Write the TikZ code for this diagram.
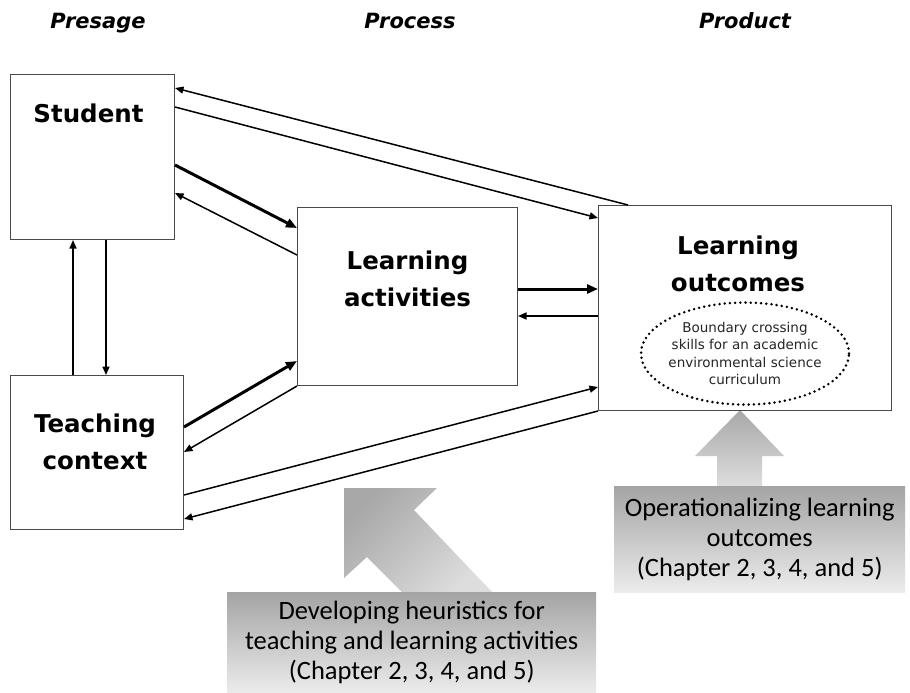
\documentclass[tikz,border=0pt]{standalone}
\usepackage{fontspec}
\setmainfont{DejaVu Sans}
\newfontfamily\calfont{Carlito}
\usetikzlibrary{
    shapes.geometric,
    arrows.meta,
    positioning,
    calc
}
\definecolor{pborder}{HTML}{4A4A4A}
\definecolor{pgraydark}{HTML}{A4A4A4}
\definecolor{pgraylight}{HTML}{ECECEC}
\definecolor{parrowdark}{HTML}{A8A8A8}
\definecolor{parrowlight}{HTML}{DDDDDD}
\tikzset{
    % Presage / process / product box
    pbox/.style={
        rectangle,
        draw=pborder,
        line width=1pt,
        fill=white,
        anchor=north west,
        inner sep=0pt
    },
    % Bold title inside a box
    ptitle/.style={
        font=\fontsize{24.5}{37}\selectfont\bfseries,
        align=center,
        inner sep=0pt
    },
    % Column header
    colheader/.style={
        font=\fontsize{21}{24}\selectfont\bfseries\itshape,
        anchor=base,
        inner sep=0pt
    },
    % Dotted ellipse
    skillsnode/.style={
        ellipse,
        draw=black,
        line width=2.8pt,
        dash pattern=on 0pt off 5.2pt,
        line cap=round,
        minimum width=208pt,
        minimum height=102pt,
        inner xsep=-5pt,
        inner ysep=0pt,
        font=\fontsize{13.5}{17.5}\selectfont,
        text=black!85,
        align=center
    },
    % Shaded note box
    notebox/.style={
        rectangle,
        top color=pgraydark,
        bottom color=pgraylight,
        anchor=north west,
        inner sep=2pt,
        font=\calfont\fontsize{26.5}{30}\selectfont,
        text=black,
        align=center
    },
    % Shaded block arrow
    blockarrow/.style={
        top color=parrowdark,
        bottom color=parrowlight
    },
    % Arrows
    thinarrow/.style={
        -{Triangle[length=8.5pt,width=7pt]},
        line width=1.5pt
    },
    thickarrow/.style={
        -{Triangle[length=11pt,width=9pt]},
        line width=3pt
    }
}
\begin{document}
\begin{tikzpicture}[x=1pt, y=-1pt]

    \useasboundingbox (0,0) rectangle (910,693);

    % Block arrows (behind the note boxes)
    \shade[blockarrow, shading angle=45] (344,488) -- ++(93,0) -- ++(-23,22)
        -- ++(78,82) -- ++(-90,0) -- ++(-35,-35) -- ++(-23,21) -- cycle;
    \shade[blockarrow] (740,410) -- ++(44,46) -- ++(-22,0) -- ++(0,30)
        -- ++(-45,0) -- ++(0,-30) -- ++(-22,0) -- cycle;

    % Note boxes
    \node[notebox, minimum width=369pt, minimum height=101pt] (heuristics) at (227,592)
        {Developing heuristics for\\teaching and learning activities\\(Chapter 2, 3, 4, and 5)};
    \node[notebox, minimum width=291pt, minimum height=106pt] (operational) at (614,486)
        {Operationalizing learning\\outcomes\\(Chapter 2, 3, 4, and 5)};

    % Column headers
    \node[colheader] (presage) at (98,29) {Presage};
    \node[colheader] (process) at (410,29) {Process};
    \node[colheader] (product) at (745,29) {Product};

    % Boxes
    \node[pbox, minimum width=164pt, minimum height=165pt] (student) at (10,74) {};
    \node[pbox, minimum width=173pt, minimum height=154pt] (teaching) at (10,375) {};
    \node[pbox, minimum width=220pt, minimum height=178pt] (activities) at (297,207) {};
    \node[pbox, minimum width=293pt, minimum height=205pt] (outcomes) at (598,205) {};

    % Box titles
    \node[ptitle, below=30pt of student.north, xshift=-4pt] (studenttxt) {Student};
    \node[ptitle, below=39pt of teaching.north, xshift=-2pt] (teachingtxt) {Teaching\\context};
    \node[ptitle, below=44pt of activities.north] (activitiestxt) {Learning\\activities};
    \node[ptitle, below=31pt of outcomes.north, xshift=-7pt] (outcomestxt) {Learning\\outcomes};

    % Dotted ellipse
    \node[skillsnode, above=5pt of outcomes.south] (skills)
        {Boundary crossing\\skills for an academic\\environmental science\\curriculum};

    % Student <-> outcomes
    \draw[thinarrow] ([xshift=30pt]outcomes.north west) -- ([yshift=-14pt]student.north east);
    \draw[thinarrow] ([yshift=-33pt]student.north east) -- ([yshift=-13pt]outcomes.north west);

    % Student <-> activities
    \draw[thickarrow] ([yshift=-91pt]student.north east) -- ([yshift=-21pt]activities.north west);
    \draw[thinarrow] ([yshift=-48pt]activities.north west) -- ([yshift=-119pt]student.north east);

    % Student <-> teaching context
    \draw[thinarrow] ([xshift=96pt]student.south west) -- ([xshift=96pt]teaching.north west);
    \draw[thinarrow] ([xshift=63pt]teaching.north west) -- ([xshift=63pt]student.south west);

    % Teaching context <-> activities
    \draw[thickarrow] ([yshift=-52pt]teaching.north east) -- ([yshift=25pt]activities.south west);
    \draw[thinarrow] (activities.south west) -- ([yshift=-77pt]teaching.north east);

    % Teaching context <-> outcomes
    \draw[thinarrow] ([yshift=-120pt]teaching.north east) -- ([yshift=24pt]outcomes.south west);
    \draw[thinarrow] (outcomes.south west) -- ([yshift=11pt]teaching.south east);

    % Activities <-> outcomes
    \draw[thickarrow] ([yshift=-82pt]activities.north east) -- ([yshift=-84pt]outcomes.north west);
    \draw[thinarrow] ([yshift=-111pt]outcomes.north west) -- ([yshift=-109pt]activities.north east);

\end{tikzpicture}
\end{document}
